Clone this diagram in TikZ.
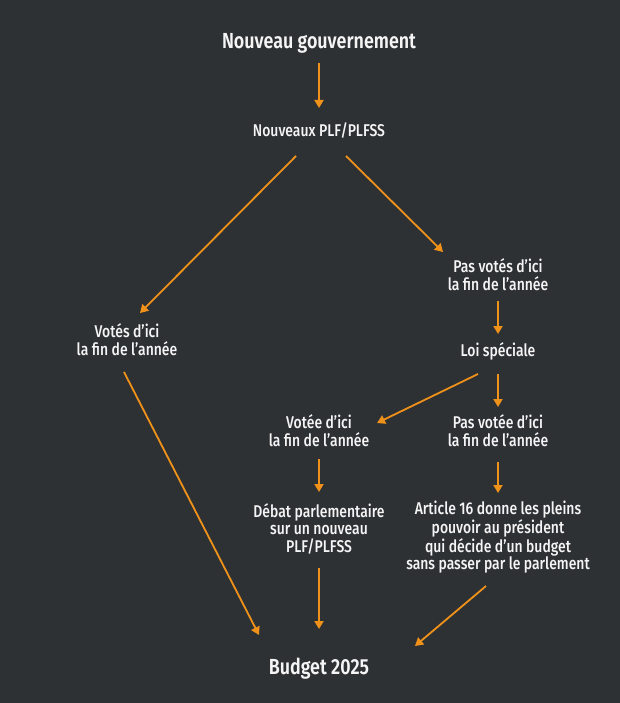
\documentclass[tikz,border=0pt]{standalone}
\usepackage{fontspec}
\setmainfont{Fira Sans}[UprightFont=* Medium, BoldFont=* SemiBold, FakeStretch=0.82]
\usepackage{xcolor}
\usetikzlibrary{arrows.meta}
\definecolor{bgdark}{RGB}{46,49,52}
\definecolor{flowline}{RGB}{240,146,26}
\definecolor{labeltext}{RGB}{245,245,245}
\begin{document}
\begin{tikzpicture}[x=1pt, y=-1pt, every node/.style={font=\fontsize{17}{17.5}\selectfont, align=center, text=labeltext, inner sep=0pt, anchor=base}, heading/.style={font=\fontsize{21.8}{24}\selectfont\bfseries}, link/.style={draw=flowline, line width=1.8pt, -{Triangle[length=8pt, width=9pt]}}]
\fill[bgdark] (0,0) rectangle (620,703);
\node[heading] (gov) at (319,49) {Nouveau gouvernement};
\node (plf) at (319,137) {Nouveaux PLF/PLFSS};
\node (votes) at (127,355) {Votés d’ici\\la fin de l’année};
\node (pasvotes) at (498,290) {Pas votés d’ici\\la fin de l’année};
\node (loi) at (498,356) {Loi spéciale};
\node (votee) at (319,446) {Votée d’ici\\la fin de l’année};
\node (pasvotee) at (498,446) {Pas votée d’ici\\la fin de l’année};
\node (debat) at (319,552) {Débat parlementaire\\sur un nouveau\\PLF/PLFSS};
\node (article) at (498,569.5) {Article 16 donne les pleins\\pouvoir au président\\qui décide d’un budget\\sans passer par le parlement};
\node[heading] (budget) at (319,674) {Budget 2025};
\draw[link] ([shift={(0,14)}]gov.base) -- ([shift={(0,-29)}]plf.base);
\draw[link] ([shift={(-23,19)}]plf.base) -- ([shift={(13,-42)}]votes.base);
\draw[link] ([shift={(27,19)}]plf.base) -- ([shift={(-55,-38)}]pasvotes.base);
\draw[link] ([shift={(0,11)}]pasvotes.base) -- ([shift={(0,-22)}]loi.base);
\draw[link] ([shift={(0,18)}]loi.base) -- ([shift={(0,-39)}]pasvotee.base);
\draw[link] ([shift={(-20,18)}]loi.base) -- ([shift={(58,-23)}]votee.base);
\draw[link] ([shift={(0,13)}]votee.base) -- ([shift={(0,-60)}]debat.base);
\draw[link] ([shift={(0,16)}]pasvotee.base) -- ([shift={(0,-76.5)}]article.base);
\draw[link] ([shift={(0,16)}]debat.base) -- ([shift={(0,-45)}]budget.base);
\draw[link] ([shift={(-3,17)}]votes.base) -- ([shift={(-60,-39)}]budget.base);
\draw[link] ([shift={(-12,16.5)}]article.base) -- ([shift={(96,-28)}]budget.base);
\end{tikzpicture}
\end{document}
